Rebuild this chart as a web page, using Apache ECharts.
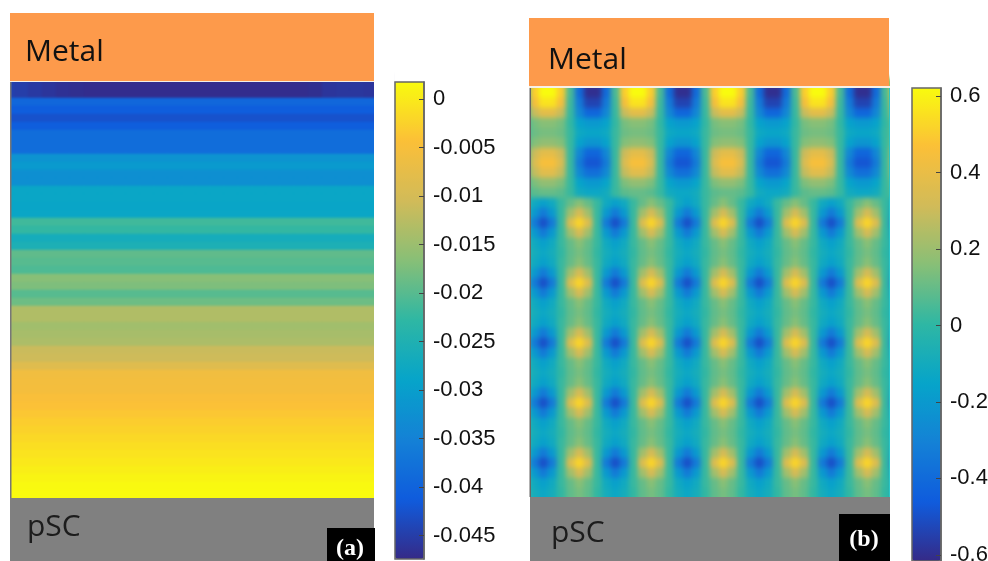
<!DOCTYPE html>
<html><head><meta charset="utf-8">
<style>html,body{margin:0;padding:0;background:#fff;overflow:hidden}#c{width:988px;height:561px}</style>
<script src="https://cdn.jsdelivr.net/npm/echarts@6/dist/echarts.min.js"></script>
</head><body><div id="c"></div>
<script>
// Shared colour ramp
const rampColors = ['#352A87','#0F5CDD','#1481D6','#06A4CA','#2EB7A4','#87BF77','#D1BB59','#FBBF38','#F9FB0E'];

// Panel (a): one value per horizontal band, top to bottom (first and last sit under the Metal / pSC layers)
const leftBands = [-0.0465,-0.0465,-0.0465,-0.0394,-0.041,-0.0425,-0.041,-0.0385,-0.0385,-0.0385,-0.032,-0.0308,-0.0326,-0.0326,
 -0.0283,-0.0283,-0.0285,-0.0283,-0.0216,-0.0225,-0.0265,-0.0255,-0.0194,-0.02,-0.0206,-0.0166,-0.0173,-0.02,-0.0185,
 -0.0133,-0.0133,-0.0145,-0.014,-0.0136,-0.0111,-0.0108,-0.0085,-0.0058,-0.0056,-0.0054,-0.0047,-0.0042,-0.0036,-0.003,
 -0.0024,-0.0018,-0.0012,-0.0007,-0.0002,0.0004,0.001,0.0015,0.0017,0.0017];
// Panel (a): the top dark band changes slightly along x
const leftTopEdge = [-0.0445,-0.045,-0.0455,-0.046,-0.0465,-0.0468,-0.047,-0.047,-0.047,-0.047,-0.047,-0.047,-0.047,-0.047,
 -0.047,-0.047,-0.047,-0.047,-0.047,-0.047,-0.047,-0.047,-0.0468,-0.046,-0.0458,-0.0458,-0.046,-0.046];
const leftTickValues = [0,-0.005,-0.01,-0.015,-0.02,-0.025,-0.03,-0.035,-0.04,-0.045];
const leftRange = [-0.0474,0.00175];

// Panel (b): rows of the upper, wider-spaced pattern
const U0 = [.05,.5,.62,.62,.5,.05,-.4,-.6,-.6,-.4,.05,.5,.62,.62,.5,.05,-.4,-.6,-.6,-.4,.05,.5,.62,.62,.5,.05,-.4,-.6,-.6,-.4,.05,.5,.62,.62,.5,.05,-.4,-.6,-.6,-.4,.05,.5];
const U1 = [.03,.44,.56,.56,.44,.03,-.34,-.54,-.54,-.34,.03,.44,.56,.56,.44,.03,-.34,-.54,-.54,-.34,.03,.44,.56,.56,.44,.03,-.34,-.54,-.54,-.34,.03,.44,.56,.56,.44,.03,-.34,-.54,-.54,-.34,.03,.44];
const U2 = [.02,.29,.38,.38,.29,.02,-.28,-.42,-.42,-.28,.02,.29,.38,.38,.29,.02,-.28,-.42,-.42,-.28,.02,.29,.38,.38,.29,.02,-.28,-.42,-.42,-.28,.02,.29,.38,.38,.29,.02,-.28,-.42,-.42,-.28,.02,.29];
const U3 = [.01,.13,.16,.16,.13,.01,-.16,-.2,-.2,-.16,.01,.13,.16,.16,.13,.01,-.16,-.2,-.2,-.16,.01,.13,.16,.16,.13,.01,-.16,-.2,-.2,-.16,.01,.13,.16,.16,.13,.01,-.16,-.2,-.2,-.16,.01,.13];
const U4 = [.02,.11,.13,.13,.11,.02,-.12,-.14,-.14,-.12,.02,.11,.13,.13,.11,.02,-.12,-.14,-.14,-.12,.02,.11,.13,.13,.11,.02,-.12,-.14,-.14,-.12,.02,.11,.13,.13,.11,.02,-.12,-.14,-.14,-.12,.02,.11];
const U5 = [.02,.15,.18,.18,.15,.02,-.16,-.22,-.22,-.16,.02,.15,.18,.18,.15,.02,-.16,-.22,-.22,-.16,.02,.15,.18,.18,.15,.02,-.16,-.22,-.22,-.16,.02,.15,.18,.18,.15,.02,-.16,-.22,-.22,-.16,.02,.15];
const U6 = [.02,.3,.38,.38,.3,.02,-.28,-.42,-.42,-.28,.02,.3,.38,.38,.3,.02,-.28,-.42,-.42,-.28,.02,.3,.38,.38,.3,.02,-.28,-.42,-.42,-.28,.02,.3,.38,.38,.3,.02,-.28,-.42,-.42,-.28,.02,.3];
const U7 = [.02,.34,.45,.45,.34,.02,-.33,-.48,-.48,-.33,.02,.34,.45,.45,.34,.02,-.33,-.48,-.48,-.33,.02,.34,.45,.45,.34,.02,-.33,-.48,-.48,-.33,.02,.34,.45,.45,.34,.02,-.33,-.48,-.48,-.33,.02,.34];
const U8 = [.02,.28,.37,.37,.28,.02,-.27,-.38,-.38,-.27,.02,.28,.37,.37,.28,.02,-.27,-.38,-.38,-.27,.02,.28,.37,.37,.28,.02,-.27,-.38,-.38,-.27,.02,.28,.37,.37,.28,.02,-.27,-.38,-.38,-.27,.02,.28];
const U9 = [.02,.14,.18,.18,.14,.02,-.15,-.2,-.2,-.15,.02,.14,.18,.18,.14,.02,-.15,-.2,-.2,-.15,.02,.14,.18,.18,.14,.02,-.15,-.2,-.2,-.15,.02,.14,.18,.18,.14,.02,-.15,-.2,-.2,-.15,.02,.14];
const U10 = [.02,.08,.1,.1,.08,.02,-.1,-.13,-.13,-.1,.02,.08,.1,.1,.08,.02,-.1,-.13,-.13,-.1,.02,.08,.1,.1,.08,.02,-.1,-.13,-.13,-.1,.02,.08,.1,.1,.08,.02,-.1,-.13,-.13,-.1,.02,.08];
// Panel (b): rows of the lower pattern, by distance from a row of spots
const P0 = [.02,-.33,-.5,-.33,.02,.35,.52,.35,.02,-.33,-.5,-.33,.02,.35,.52,.35,.02,-.33,-.5,-.33,.02,.35,.52,.35,.02,-.33,-.5,-.33,.02,.35,.52,.35,.02,-.33,-.5,-.33,.02,.35,.52,.35,.02,-.33];
const P1 = [.02,-.2,-.33,-.2,.02,.21,.33,.21,.02,-.2,-.33,-.2,.02,.21,.33,.21,.02,-.2,-.33,-.2,.02,.21,.33,.21,.02,-.2,-.33,-.2,.02,.21,.33,.21,.02,-.2,-.33,-.2,.02,.21,.33,.21,.02,-.2];
const P2 = [.02,-.11,-.17,-.11,.02,.1,.16,.1,.02,-.11,-.17,-.11,.02,.1,.16,.1,.02,-.11,-.17,-.11,.02,.1,.16,.1,.02,-.11,-.17,-.11,.02,.1,.16,.1,.02,-.11,-.17,-.11,.02,.1,.16,.1,.02,-.11];
const P3 = [.01,-.09,-.13,-.09,.01,.09,.13,.09,.01,-.09,-.13,-.09,.01,.09,.13,.09,.01,-.09,-.13,-.09,.01,.09,.13,.09,.01,-.09,-.13,-.09,.01,.09,.13,.09,.01,-.09,-.13,-.09,.01,.09,.13,.09,.01,-.09];
const rightRows = [U0,U0,U1,U2,U3,U4,U5,U6,U7,U8,U9,U10,P2,P1,P0,P1,P2,P3,P2,P1,P0,P1,P2,P3,P2,P1,P0,P1,P2,P3,P2,P1,P0,P1,P2,P3,P2,P1,P0,P1,P2,P3,P3];
const rightTickValues = [0.6,0.4,0.2,0,-0.2,-0.4,-0.6];
const rightRange = [-0.616,0.621];

// Layer annotations
const layerTop = 'Metal', layerBottom = 'pSC', panelA = '(a)', panelB = '(b)';

const toCells = (rows, get) => {
  const out = [];
  rows.forEach((r, y) => { (Array.isArray(r) ? r : leftTopEdge).forEach((_, x) => out.push([x, y, get(r, x, y)])); });
  return out;
};
const leftData = toCells(leftBands, (v, x, y) => y < 3 ? leftTopEdge[x] : v);
const rightData = toCells(rightRows, (r, x) => r[x]);

const hiddenAxis = (gridIndex, len) => ({type:'category', gridIndex, show:false, data:Array.from({length:len},(_, i)=>String(i))});
const barAxis = (gridIndex, range, ticks, margin) => ({
  type:'value', gridIndex, position:'right', min:range[0], max:range[1], z:6, splitLine:{show:false},
  axisLine:{show:true, onZero:false, lineStyle:{color:'#666', width:1.5}},
  axisTick:{show:true, inside:true, length:5, lineStyle:{color:'#444', width:1}, customValues:ticks},
  axisLabel:{show:true, margin, color:'#111', fontFamily:'Liberation Sans', fontSize:22, padding:[6,0,0,0], customValues:ticks}
});
const rect = (x,y,w,h,fill) => ({type:'rect', zlevel:3, silent:true, shape:{x,y,width:w,height:h}, style:{fill}});
const label = (x,y,text,font,fill,align) => ({type:'text', zlevel:3, silent:true, z:10, style:{x,y,text,font,fill,align:align||'left',verticalAlign:'middle'}});
const layerFont = '30px "Open Sans"', tagFont = 'bold 24px "Liberation Serif"';

const chart = echarts.init(document.getElementById('c'), null, {renderer:'canvas'});
chart.setOption({
  animation:false, backgroundColor:'#fff',
  grid:[
    {left:0, top:74, width:392, height:432, outerBoundsMode:'none'},
    {left:521, top:78, width:378, height:430, outerBoundsMode:'none'},
    {left:395, top:82, width:29, height:477, show:true, z:5, borderColor:'#666', borderWidth:1.5, backgroundColor:'transparent', outerBoundsMode:'none'},
    {left:912, top:88, width:29, height:473, show:true, z:5, borderColor:'#666', borderWidth:1.5, backgroundColor:'transparent', outerBoundsMode:'none'}
  ],
  xAxis:[hiddenAxis(0,leftTopEdge.length), hiddenAxis(1,rightRows[0].length),
    {type:'value',gridIndex:2,show:false},{type:'value',gridIndex:3,show:false}],
  yAxis:[Object.assign(hiddenAxis(0,leftBands.length),{inverse:true}), Object.assign(hiddenAxis(1,rightRows.length),{inverse:true}),
    barAxis(2,leftRange,leftTickValues,9), barAxis(3,rightRange,rightTickValues,9)],
  visualMap:[
    {type:'continuous', seriesIndex:0, min:leftRange[0], max:leftRange[1], left:395, top:82, itemWidth:29, itemHeight:477, padding:0, calculable:false, text:null, hoverLink:false, z:1, inRange:{color:rampColors}},
    {type:'continuous', seriesIndex:1, min:rightRange[0], max:rightRange[1], left:912, top:88, itemWidth:29, itemHeight:473, padding:0, calculable:false, text:null, hoverLink:false, z:1, inRange:{color:rampColors}}
  ],
  series:[
    {type:'heatmap', xAxisIndex:0, yAxisIndex:0, data:leftData, zlevel:1, silent:true, progressive:0, emphasis:{disabled:true}},
    {type:'heatmap', xAxisIndex:1, yAxisIndex:1, data:rightData, zlevel:2, silent:true, progressive:0, emphasis:{disabled:true}}
  ],
  graphic:{elements:[
    rect(0,0,11,82,'#fff'), rect(0,82,11,479,'#fff'), rect(374,60,20,450,'#fff'),
    rect(500,55,30,480,'#fff'), rect(890,55,20,480,'#fff'),
    rect(10,82,1.5,416,'#777'), rect(529.5,88,1.5,409,'#666'), rect(889,88,1,409,'#2cc5c5'),
    rect(10,13,364,68,'#FD9A4B'), rect(10,81,364,1,'#f2efe8'), rect(10,498,364,63,'#808080'),
    rect(529,18,360,68,'#FD9A4B'), rect(529,86,361,2,'#f7f0e6'), rect(530,497,360,64,'#808080'),
    rect(327,528,48,33,'#000'), rect(839,514,51,47,'#000'),
    label(25,52,layerTop,layerFont,'#111'), label(548,60,layerTop,layerFont,'#111'),
    label(27,527,layerBottom,layerFont,'#1c1c1c'), label(551,533,layerBottom,layerFont,'#1c1c1c'),
    label(350,549,panelA,tagFont,'#fff','center'), label(864,540,panelB,tagFont,'#fff','center')
  ]}
});
const painter = chart.getZr().painter;
painter.getLayer(1).dom.style.filter = 'blur(1px)';
painter.getLayer(2).dom.style.filter = 'blur(2.6px)';
</script></body></html>
